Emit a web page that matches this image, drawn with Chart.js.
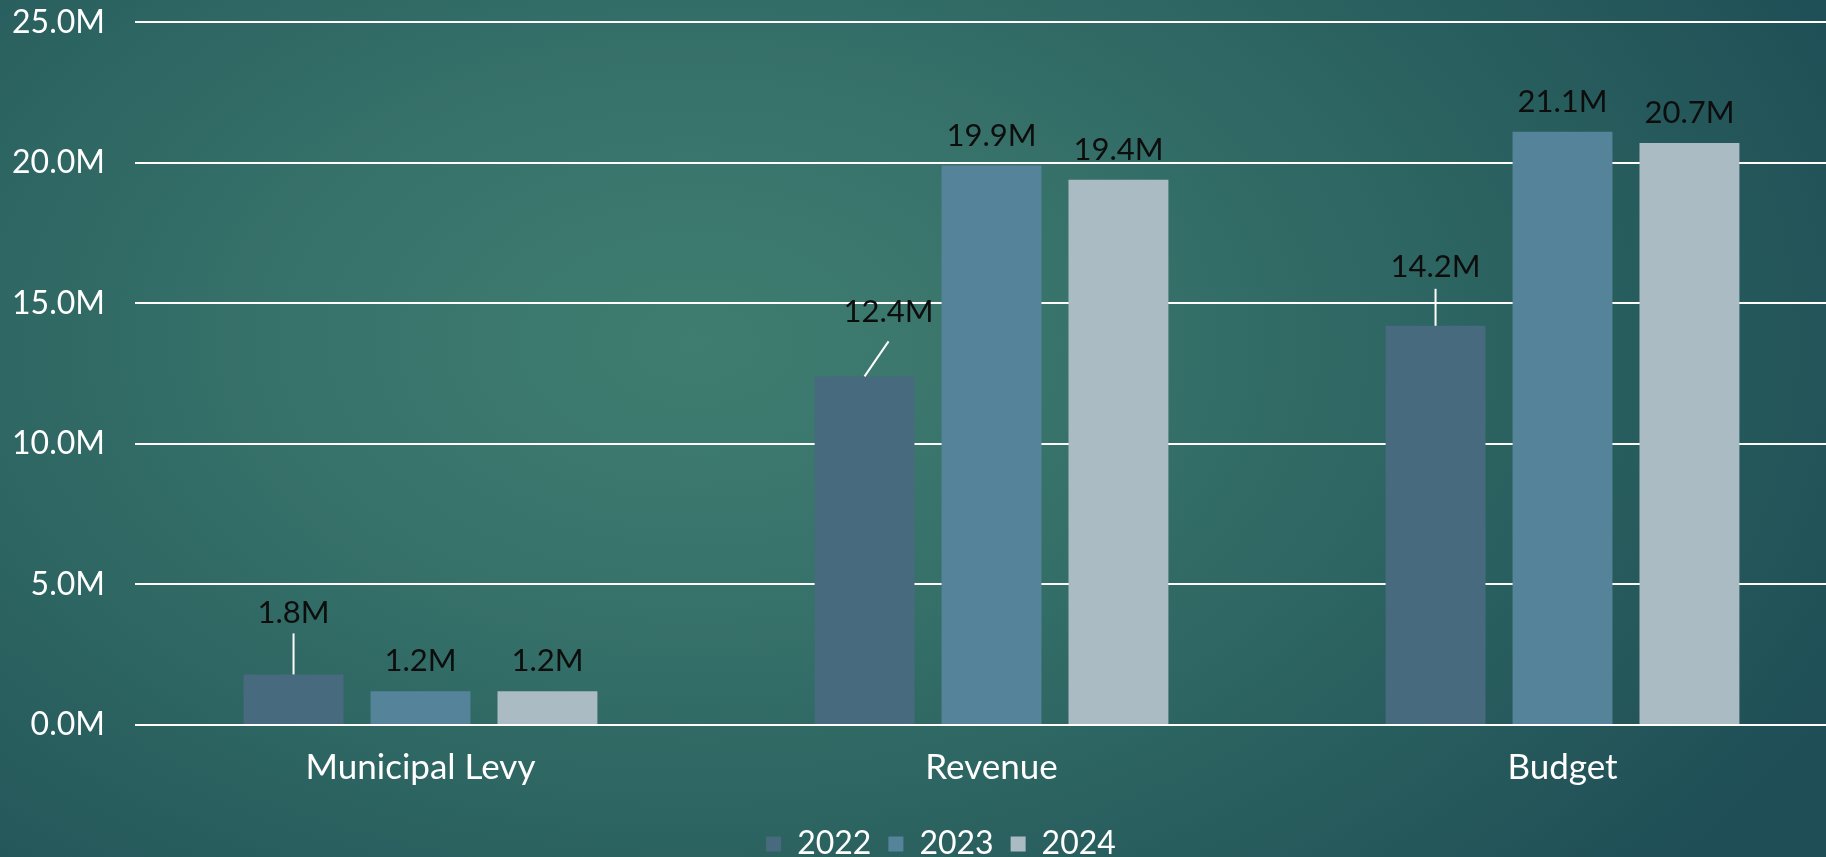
<!DOCTYPE html>
<html>
<head>
<meta charset="utf-8">
<script src="https://cdn.jsdelivr.net/npm/chart.js@4.4.1/dist/chart.umd.min.js"></script>
<style>
  html, body {
    margin: 0;
    padding: 0;
    width: 1826px;
    height: 857px;
    overflow: hidden;
  }
  body {
    background: radial-gradient(ellipse 70% 95% at 38% 40%, #3f7d70 0%, #38736b 30%, #2c6461 60%, #1f4e56 100%);
  }
  #wrap {
    position: absolute;
    left: 0;
    top: -27px;
    width: 1882px;
    height: 884px;
  }
</style>
</head>
<body>
<div id="wrap"><canvas id="chart" width="1882" height="884"></canvas></div>
<script>
// Values in millions
const categories = ['Municipal Levy', 'Revenue', 'Budget'];
const seriesNames = ['2022', '2023', '2024'];
const values2022 = [1.8, 12.4, 14.2];
const values2023 = [1.2, 19.9, 21.1];
const values2024 = [1.2, 19.4, 20.7];
const yTickValues = [0, 5, 10, 15, 20, 25];

const barColors = ['#476a7e', '#55849a', '#abbbc3'];
const FONT = 'Lato, "Noto Sans", sans-serif';

// Label placement: default sits above the bar; a few labels are lifted
// with a leader line back to the bar top. Key = datasetIndex-index.
const labelGap = 30;
const liftedLabels = {
  '0-0': { dx: 0, dy: 61, lineFrom: [0, 0], lineTo: [0, 41] },
  '0-1': { dx: 24, dy: 64, lineFrom: [0, 0], lineTo: [24, 35] },
  '0-2': { dx: 0, dy: 59, lineFrom: [0, 0], lineTo: [0, 37] }
};

const valueLabels = {
  id: 'valueLabels',
  afterDatasetsDraw(chart) {
    const ctx = chart.ctx;
    ctx.save();
    ctx.font = '31px ' + FONT;
    ctx.textAlign = 'center';
    ctx.textBaseline = 'middle';
    chart.data.datasets.forEach((ds, di) => {
      const meta = chart.getDatasetMeta(di);
      meta.data.forEach((bar, i) => {
        const v = ds.data[i];
        const lift = liftedLabels[di + '-' + i];
        let tx = bar.x, ty = bar.y - labelGap;
        if (lift) {
          tx = bar.x + lift.dx;
          ty = bar.y - lift.dy;
          ctx.strokeStyle = '#ffffff';
          ctx.lineWidth = 2;
          ctx.beginPath();
          ctx.moveTo(bar.x + lift.lineFrom[0], bar.y - lift.lineFrom[1]);
          ctx.lineTo(bar.x + lift.lineTo[0], bar.y - lift.lineTo[1]);
          ctx.stroke();
        }
        ctx.fillStyle = '#0d0d0d';
        ctx.fillText(v.toFixed(1) + 'M', tx, ty);
      });
    });
    ctx.restore();
  }
};

new Chart(document.getElementById('chart'), {
  type: 'bar',
  data: {
    labels: categories,
    datasets: [values2022, values2023, values2024].map((vals, k) => ({
      label: seriesNames[k],
      data: vals,
      backgroundColor: barColors[k],
      borderWidth: 0,
      barPercentage: 0.787,
      categoryPercentage: 0.667
    }))
  },
  options: {
    responsive: false,
    animation: false,
    layout: { padding: { left: 0, right: 0, top: -6, bottom: -13 } },
    plugins: {
      tooltip: { enabled: false },
      legend: {
        position: 'bottom',
        labels: {
          boxWidth: 15,
          boxHeight: 15,
          padding: 17,
          color: '#ffffff',
          font: { family: FONT, size: 32 }
        }
      }
    },
    scales: {
      x: {
        grid: { display: false },
        border: { display: false },
        ticks: {
          color: '#ffffff',
          padding: 14,
          font: { family: FONT, size: 35 }
        },
        afterFit(s) { s.height = 86; }
      },
      y: {
        min: 0,
        max: 25,
        afterBuildTicks(s) { s.ticks = yTickValues.map(v => ({ value: v })); },
        ticks: {
          color: '#ffffff',
          padding: 30,
          font: { family: FONT, size: 32 },
          callback: v => v.toFixed(1) + 'M'
        },
        grid: { color: '#ffffff', lineWidth: 2, drawTicks: false },
        border: { display: false },
        afterFit(s) { s.width = 135; }
      },
      spacer: {
        position: 'right',
        display: true,
        grid: { display: false },
        border: { display: false },
        ticks: { display: false },
        afterFit(s) { s.width = 34; }
      }
    }
  },
  plugins: [valueLabels]
});
</script>
</body>
</html>
